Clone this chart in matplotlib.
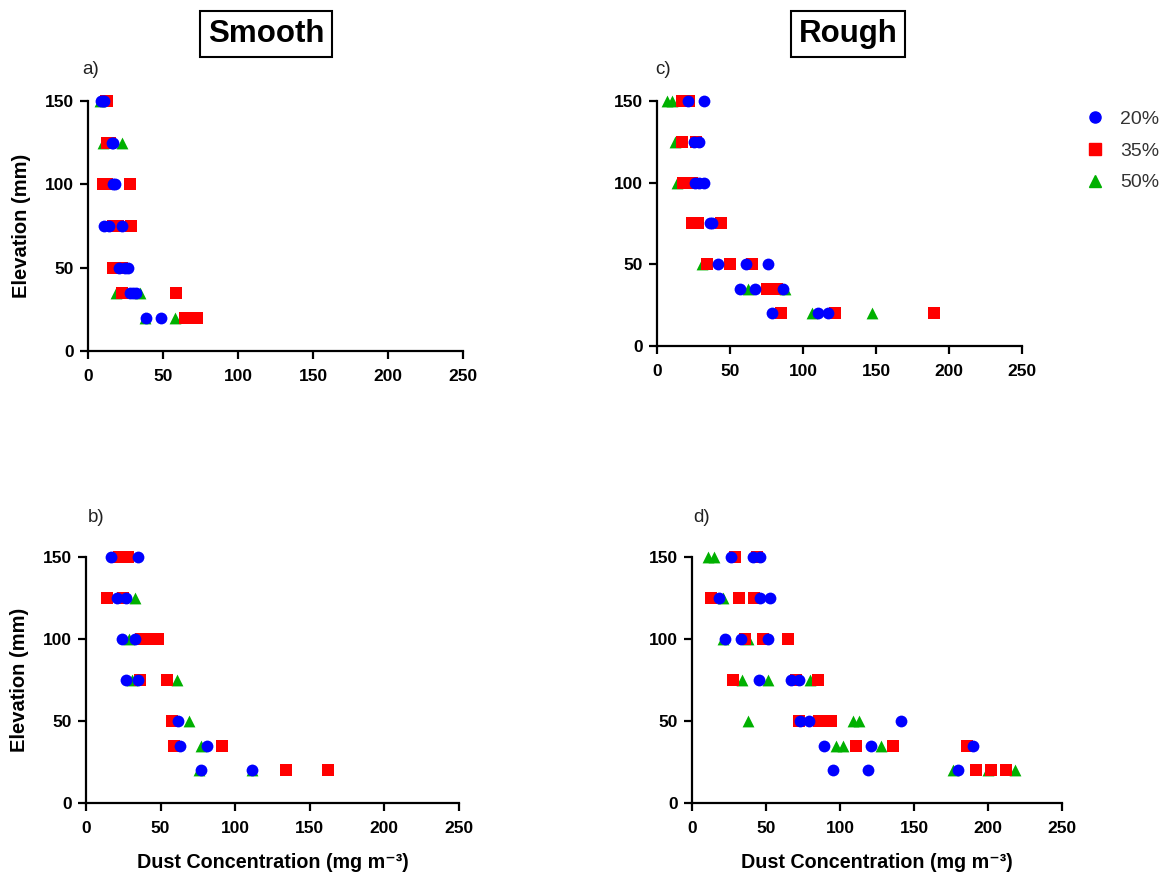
import matplotlib
matplotlib.use("Agg")
import matplotlib.pyplot as plt
from matplotlib.lines import Line2D

plt.rcParams['font.family'] = ['Liberation Sans', 'DejaVu Sans']

# ------------------------------------------------------------------
# dust concentration (mg m-3) at each elevation (mm), per moisture level
# ------------------------------------------------------------------

# a) smooth, upper
a_20_x = [9, 10, 11, 16, 17, 17, 18, 11, 14, 23, 21, 25, 27, 28, 30, 32, 39, 49]
a_20_y = [150, 150, 150, 125, 125, 100, 100, 75, 75, 75, 50, 50, 50, 35, 35, 35, 20, 20]
a_35_x = [12, 13, 13, 15, 10, 13, 28, 17, 20, 29, 17, 23, 23, 59, 65, 73]
a_35_y = [150, 150, 125, 125, 100, 100, 100, 75, 75, 75, 50, 50, 35, 35, 20, 20]
a_50_x = [8, 10, 23, 19, 35, 38, 58]
a_50_y = [150, 125, 125, 35, 35, 20, 20]

# b) smooth, lower
b_20_x = [17, 35, 21, 27, 24, 33, 27, 35, 62, 63, 81, 77, 111]
b_20_y = [150, 150, 125, 125, 100, 100, 75, 75, 50, 35, 35, 20, 20]
b_35_x = [22, 28, 14, 25, 37, 43, 48, 36, 54, 58, 59, 91, 134, 162]
b_35_y = [150, 150, 125, 125, 100, 100, 100, 75, 75, 50, 35, 35, 20, 20]
b_50_x = [33, 29, 31, 61, 69, 77, 76, 111]
b_50_y = [125, 100, 75, 75, 50, 35, 20, 20]

# c) rough, upper
c_20_x = [21, 32, 25, 29, 26, 29, 32, 36, 38, 42, 61, 76, 57, 67, 86, 79, 110, 117]
c_20_y = [150, 150, 125, 125, 100, 100, 100, 75, 75, 50, 50, 50, 35, 35, 35, 20, 20, 20]
c_35_x = [17, 22, 17, 27, 18, 24, 24, 28, 44, 34, 50, 65, 75, 78, 82, 85, 122, 190]
c_35_y = [150, 150, 125, 125, 100, 100, 75, 75, 75, 50, 50, 50, 35, 35, 35, 20, 20, 20]
c_50_x = [7, 10, 12, 14, 31, 62, 88, 106, 147]
c_50_y = [150, 150, 125, 100, 50, 35, 35, 20, 20]

# d) rough, lower
d_20_x = [26, 41, 46, 18, 46, 53, 22, 33, 51, 45, 67, 72, 73, 79, 141, 89, 121, 190, 95, 119, 180]
d_20_y = [150, 150, 150, 125, 125, 125, 100, 100, 100, 75, 75, 75, 50, 50, 50, 35, 35, 35, 20, 20, 20]
d_35_x = [29, 44, 13, 32, 42, 36, 48, 65, 28, 70, 85, 72, 86, 90, 94, 111, 136, 186, 192, 202, 212]
d_35_y = [150, 150, 125, 125, 125, 100, 100, 100, 75, 75, 75, 50, 50, 50, 50, 35, 35, 35, 20, 20, 20]
d_50_x = [11, 15, 21, 21, 38, 34, 51, 80, 38, 109, 113, 97, 102, 128, 176, 200, 218]
d_50_y = [150, 150, 125, 100, 100, 75, 75, 75, 50, 50, 50, 35, 35, 35, 20, 20, 20]

levels = ['20%', '35%', '50%']
colors = {'20%': '#0000ff', '35%': '#ff0000', '50%': '#00b000'}
markers = {'20%': 'o', '35%': 's', '50%': '^'}
sizes = {'20%': 8.5, '35%': 8.0, '50%': 8.5}
zorders = {'20%': 5, '35%': 4, '50%': 3}

panels = {
    'a)': (a_20_x, a_20_y, a_35_x, a_35_y, a_50_x, a_50_y),
    'b)': (b_20_x, b_20_y, b_35_x, b_35_y, b_50_x, b_50_y),
    'c)': (c_20_x, c_20_y, c_35_x, c_35_y, c_50_x, c_50_y),
    'd)': (d_20_x, d_20_y, d_35_x, d_35_y, d_50_x, d_50_y),
}

# axes rectangles in figure fraction
rects = {
    'a)': [0.0753, 0.5998, 0.3211, 0.2850],
    'b)': [0.0736, 0.0844, 0.3193, 0.2805],
    'c)': [0.5625, 0.6055, 0.3125, 0.2794],
    'd)': [0.5925, 0.0844, 0.3168, 0.2805],
}

fig = plt.figure(figsize=(11.68, 8.77), dpi=100)

for name, data in panels.items():
    ax = fig.add_axes(rects[name])
    for i, lev in enumerate(levels):
        xs, ys = data[2 * i], data[2 * i + 1]
        ax.scatter(xs, ys, s=sizes[lev] ** 2, marker=markers[lev], color=colors[lev],
                   linewidths=0, zorder=zorders[lev], clip_on=False)

    ax.set_xlim(0, 250)
    ax.set_ylim(0, 150)
    ax.set_xticks(range(0, 251, 50))
    ax.set_yticks(range(0, 151, 50))
    for side in ('top', 'right'):
        ax.spines[side].set_visible(False)
    for side in ('left', 'bottom'):
        ax.spines[side].set_linewidth(1.6)
    ax.tick_params(direction='out', length=6, width=1.6, labelsize=12.5)
    ax.tick_params(axis='x', pad=7)
    ax.tick_params(axis='y', pad=4)
    for lbl in ax.get_xticklabels() + ax.get_yticklabels():
        lbl.set_fontweight('bold')

    if name in ('a)', 'b)'):
        ax.set_ylabel('Elevation (mm)', fontsize=14.5, fontweight='bold', labelpad=10)
    if name in ('b)', 'd)'):
        ax.set_xlabel('Dust Concentration (mg m\u207b\u00b3)', fontsize=14.2,
                      fontweight='bold', labelpad=12)

# panel letters
fig.text(82 / 1168, 1 - 70 / 877, 'a)', fontsize=13.5, color='#222222', va='center')
fig.text(88 / 1168, 1 - 518 / 877, 'b)', fontsize=13.5, color='#222222', va='center')
fig.text(655 / 1168, 1 - 69 / 877, 'c)', fontsize=13.5, color='#222222', va='center')
fig.text(693 / 1168, 1 - 517 / 877, 'd)', fontsize=13.5, color='#222222', va='center')

# column headings
box = dict(boxstyle='square,pad=0.25', facecolor='white', edgecolor='black', linewidth=1.5)
fig.text(266 / 1168, 1 - 34 / 877, 'Smooth', fontsize=22.5, fontweight='bold',
         ha='center', va='center', bbox=box)
fig.text(848 / 1168, 1 - 34 / 877, 'Rough', fontsize=22.5, fontweight='bold',
         ha='center', va='center', bbox=box)

handles = [Line2D([], [], linestyle='none', marker=markers[lev], color=colors[lev],
                  markersize=8) for lev in levels]
fig.legend(handles, levels, loc='upper left', bbox_to_anchor=(1067 / 1168, 1 - 93 / 877),
           frameon=False, fontsize=14, labelcolor='#333333', handletextpad=0.75,
           labelspacing=0.72, handlelength=1.1)

fig.savefig('out.png', dpi=100)
